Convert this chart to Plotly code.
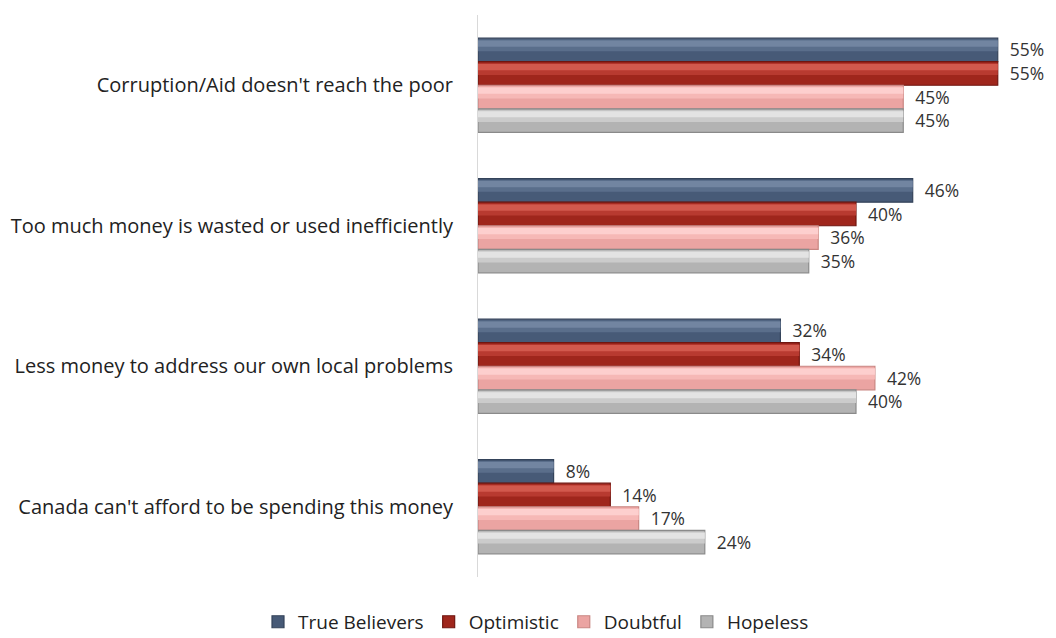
import plotly.graph_objects as go

categories = [
    "Corruption/Aid doesn't reach the poor",
    "Too much money is wasted or used inefficiently",
    "Less money to address our own local problems",
    "Canada can't afford to be spending this money",
]
series_names = ["True Believers", "Optimistic", "Doubtful", "Hopeless"]
true_believers = [55, 46, 32, 8]
optimistic = [55, 40, 34, 14]
doubtful = [45, 36, 42, 17]
hopeless = [45, 35, 40, 24]

values = [true_believers, optimistic, doubtful, hopeless]
fills = ["#475a77", "#9f261c", "#eba4a2", "#b3b3b3"]
mids = ["#5a6e8b", "#b83a30", "#f6b8b6", "#cbcbcb"]
highlights = ["#7285a1", "#d2594d", "#fdcfce", "#e3e3e3"]
edges = ["#34435a", "#701610", "#c98682", "#8a8a8a"]

group_width = 0.67
w = group_width / len(series_names)

fig = go.Figure()
for i, (name, vals, fc, ec) in enumerate(zip(series_names, values, fills, edges)):
    fig.add_trace(go.Bar(
        name=name,
        y=categories,
        x=vals,
        orientation="h",
        width=w,
        offset=-group_width / 2 + i * w,
        marker=dict(color=fc, line=dict(color=ec, width=1.2)),
        text=[f"{v}%" for v in vals],
        texttemplate="  %{text}",
        textposition="outside",
        textfont=dict(family="Open Sans", size=20, color="#333333"),
        cliponaxis=False,
    ))
for i, (name, vals, mc) in enumerate(zip(series_names, values, mids)):
    fig.add_trace(go.Bar(
        name=name,
        y=categories,
        x=vals,
        orientation="h",
        width=w * 0.50,
        offset=-group_width / 2 + i * w + w * 0.06,
        marker=dict(color=mc, line=dict(width=0)),
        showlegend=False,
        hoverinfo="skip",
        cliponaxis=False,
    ))
for i, (name, vals, hc) in enumerate(zip(series_names, values, highlights)):
    fig.add_trace(go.Bar(
        name=name,
        y=categories,
        x=vals,
        orientation="h",
        width=w * 0.26,
        offset=-group_width / 2 + i * w + w * 0.10,
        marker=dict(color=hc, line=dict(width=0)),
        showlegend=False,
        hoverinfo="skip",
        cliponaxis=False,
    ))

fig.update_layout(
    width=1056,
    height=638,
    barmode="overlay",
    plot_bgcolor="white",
    paper_bgcolor="white",
    margin=dict(l=470, r=19, t=7, b=69),
    font=dict(family="Open Sans", size=19, color="#222222"),
    xaxis=dict(range=[0, 60], visible=False, showgrid=False, zeroline=False),
    yaxis=dict(
        categoryorder="array",
        categoryarray=categories,
        autorange="reversed",
        showline=True,
        linecolor="#d9d9d9",
        linewidth=1,
        ticks="",
        ticklabelstandoff=20,
        tickfont=dict(family="Open Sans", size=20, color="#222222"),
        showgrid=False,
        automargin=False,
    ),
    legend=dict(
        orientation="h",
        xref="container",
        yref="container",
        x=0.5,
        xanchor="center",
        y=0.008,
        yanchor="bottom",
        font=dict(family="Open Sans", size=19, color="#222222"),
        itemwidth=30,
        traceorder="normal",
    ),
    showlegend=True,
)

fig.write_html("out.html")
